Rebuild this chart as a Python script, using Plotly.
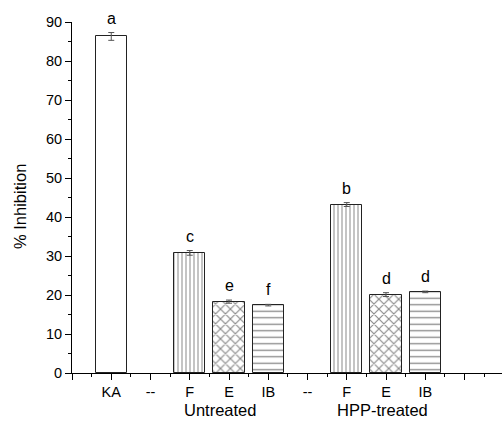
import plotly.graph_objects as go

# Data
positions = [1, 3, 4, 5, 7, 8, 9]
values = [86.3, 30.8, 18.3, 17.4, 43.2, 20.1, 20.8]
errors = [1.0, 0.6, 0.4, 0.2, 0.5, 0.5, 0.2]
letters = ["a", "c", "e", "f", "b", "d", "d"]
patterns = ["", "|", "x", "-", "|", "x", "-"]
pattern_sizes = [8, 4, 7, 6.5, 4, 7, 6.5]
pattern_solidity = [0.2, 0.25, 0.3, 0.2, 0.25, 0.3, 0.2]
tick_positions = list(range(0, 11))
tick_labels = ["", "KA", "--", "F", "E", "IB", "--", "F", "E", "IB", ""]
group_labels = ["Untreated", "HPP-treated"]
group_centers = [3.76, 7.92]

FONT = "Arial, Liberation Sans, sans-serif"

fig = go.Figure()
fig.add_trace(go.Bar(
    x=positions, y=values, width=0.8,
    marker=dict(
        color="white",
        line=dict(color="#222222", width=1),
        pattern=dict(shape=patterns, size=pattern_sizes, solidity=pattern_solidity,
                     fgcolor="#111111", bgcolor="white", fillmode="overlay"),
    ),
    error_y=dict(type="data", array=errors, visible=True,
                 color="#555555", thickness=1, width=3),
    showlegend=False,
))

annotations = []
for xp, v, e, lab in zip(positions, values, errors, letters):
    annotations.append(dict(x=xp, y=v + e, text=lab, showarrow=False,
                            xref="x", yref="y", yanchor="bottom", yshift=4,
                            font=dict(family=FONT, size=16, color="black")))
for xc, lab in zip(group_centers, group_labels):
    annotations.append(dict(x=xc, y=-0.105, text=lab, showarrow=False,
                            xref="x", yref="paper", yanchor="middle",
                            font=dict(family=FONT, size=16.5, color="black")))
annotations.append(dict(x=(20 - 72) / 430, y=(373 - 207) / 351, text="% Inhibition",
                        textangle=-90, showarrow=False, xref="paper", yref="paper",
                        xanchor="center", yanchor="middle",
                        font=dict(family=FONT, size=16.5, color="black")))

fig.update_layout(
    width=502, height=423,
    margin=dict(l=72, r=0, t=22, b=50),
    plot_bgcolor="white", paper_bgcolor="white",
    annotations=annotations,
    xaxis=dict(range=[0, 10.955], tickmode="array", tickvals=tick_positions,
               ticktext=tick_labels, ticks="outside", ticklen=6, tickwidth=1,
               tickcolor="black", showline=True, linecolor="black", linewidth=1,
               showgrid=False, zeroline=False,
               tickfont=dict(family=FONT, size=14.5, color="black"),
               minor=dict(tickmode="array",
                          tickvals=[i + 0.5 for i in range(0, 11)],
                          ticks="outside", ticklen=3, tickcolor="black", tickwidth=1,
                          showgrid=False)),
    yaxis=dict(range=[0, 90], tickmode="linear", tick0=0, dtick=10,
               ticks="outside", ticklen=6, tickwidth=1, tickcolor="black",
               showline=True, linecolor="black", linewidth=1,
               showgrid=False, zeroline=False,
               tickfont=dict(family=FONT, size=14.5, color="black"),
               minor=dict(dtick=5, ticks="outside", ticklen=3, tickcolor="black",
                          tickwidth=1, showgrid=False)),
    bargap=0,
)

fig.write_html("out.html")
